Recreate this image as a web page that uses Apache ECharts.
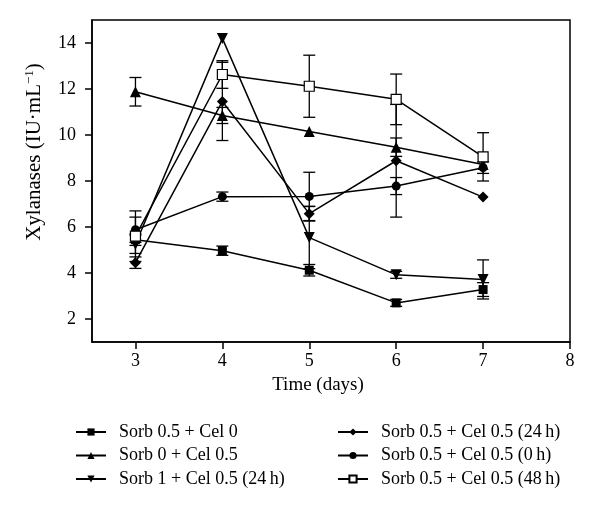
<!DOCTYPE html>
<html>
<head>
<meta charset="utf-8">
<script src="https://cdn.jsdelivr.net/npm/echarts@6/dist/echarts.min.js"></script>
<style>
html,body{margin:0;padding:0;background:#fff;}
#chart{width:600px;height:513px;}
</style>
</head>
<body>
<div id="chart"></div>
<script>
var days = [3, 4, 5, 6, 7];
var xTicks = [3, 4, 5, 6, 7, 8];
var yTicks = [2, 4, 6, 8, 10, 12, 14];
var names = [
  'Sorb 0.5 + Cel 0',
  'Sorb 0 + Cel 0.5',
  'Sorb 1 + Cel 0.5 (24\u2009h)',
  'Sorb 0.5 + Cel 0.5 (24\u2009h)',
  'Sorb 0.5 + Cel 0.5 (0\u2009h)',
  'Sorb 0.5 + Cel 0.5 (48\u2009h)'
];
var s1 = [5.45, 4.97, 4.12, 2.70, 3.28];
var e1 = [0.25, 0.20, 0.25, 0.15, 0.30];
var s2 = [11.88, 10.85, 10.15, 9.47, 8.72];
var e2 = [0.62, 0.35, 0, 0.40, 0];
var s3 = [5.25, 14.20, 5.54, 3.92, 3.72];
var e3 = [0.40, 0, 1.35, 0.15, 0.85];
var s4 = [4.45, 11.46, 6.58, 8.88, 7.30];
var e4 = [0.25, 1.70, 0.32, 2.45, 0];
var s5 = [5.88, 7.32, 7.33, 7.78, 8.58];
var e5 = [0.55, 0.20, 1.05, 0.37, 0.25];
var s6 = [5.60, 12.63, 12.12, 11.55, 9.05];
var e6 = [1.10, 0.60, 1.35, 1.10, 1.05];

var values = [s1, s2, s3, s4, s5, s6];
var errs = [e1, e2, e3, e4, e5, e6];
var symbols = ['rect', 'triangle', 'triangle', 'diamond', 'circle', 'rect'];
var rotates = [0, 0, 180, 0, 0, 0];
var sizes = [9, 11, 11, 11, 9, 10];
var fills = ['#000', '#000', '#000', '#000', '#000', '#fff'];

var FONT = 'Liberation Serif';
var series = [];
for (var i = 0; i < values.length; i++) {
  var errData = [];
  for (var j = 0; j < days.length; j++) {
    if (errs[i][j] > 0) errData.push([days[j], values[i][j] - errs[i][j], values[i][j] + errs[i][j]]);
  }
  series.push({
    type: 'custom',
    name: names[i] + ' err',
    data: errData,
    z: 1,
    silent: true,
    encode: {x: 0, y: [1, 2]},
    renderItem: function (params, api) {
      var x = api.value(0);
      var lo = api.coord([x, api.value(1)]);
      var hi = api.coord([x, api.value(2)]);
      var w = 6;
      var st = {stroke: '#000', lineWidth: 1.3};
      return {
        type: 'group',
        children: [
          {type: 'line', shape: {x1: lo[0], y1: lo[1], x2: hi[0], y2: hi[1]}, style: st},
          {type: 'line', shape: {x1: lo[0] - w, y1: lo[1], x2: lo[0] + w, y2: lo[1]}, style: st},
          {type: 'line', shape: {x1: hi[0] - w, y1: hi[1], x2: hi[0] + w, y2: hi[1]}, style: st}
        ]
      };
    }
  });
}
for (var i = 0; i < values.length; i++) {
  var d = [];
  for (var j = 0; j < days.length; j++) d.push([days[j], values[i][j]]);
  series.push({
    type: 'line',
    name: names[i],
    data: d,
    z: 3,
    symbol: symbols[i],
    symbolSize: sizes[i],
    symbolRotate: rotates[i],
    showAllSymbol: true,
    lineStyle: {color: '#000', width: 1.5},
    itemStyle: {color: fills[i], borderColor: '#000', borderWidth: i === 5 ? 1.2 : 0},
    emphasis: {disabled: true},
    animation: false
  });
}

var legendCommon = {
  orient: 'vertical',
  itemWidth: 30,
  itemHeight: 9,
  itemGap: 5.5,
  textStyle: {fontFamily: FONT, fontSize: 18, color: '#000', lineHeight: 18, padding: [0, 0, 0, 8]},
  selectedMode: false
};

var option = {
  backgroundColor: '#fff',
  animation: false,
  grid: {left: 92, right: 30, top: 20, bottom: 171, show: true, borderColor: '#000', borderWidth: 1.5, containLabel: false},
  xAxis: {
    type: 'value', min: 2.5, max: 8,
    name: 'Time (days)', nameLocation: 'middle', nameGap: 34,
    nameTextStyle: {fontFamily: FONT, fontSize: 19, color: '#000', padding: [0, 26, 0, 0]},
    axisLine: {lineStyle: {color: '#000', width: 1.5}},
    axisTick: {show: true, length: 7, inside: false, lineStyle: {color: '#000', width: 1.5}, customValues: xTicks},
    axisLabel: {fontFamily: FONT, fontSize: 18, color: '#000', margin: 10, customValues: xTicks},
    splitLine: {show: false}
  },
  yAxis: {
    type: 'value', min: 1, max: 15,
    name: 'Xylanases (IU\u00b7mL{sup|\u22121})', nameLocation: 'middle', nameGap: 46, nameRotate: 90,
    nameTextStyle: {fontFamily: FONT, fontSize: 21, color: '#000', padding: [0, 0, 0, 58],
      rich: {sup: {fontFamily: FONT, fontSize: 13, color: '#000', verticalAlign: 'top', padding: [0, 0, 10, 0]}}},
    axisLine: {show: true, lineStyle: {color: '#000', width: 1.5}},
    axisTick: {show: true, length: 7, inside: false, lineStyle: {color: '#000', width: 1.5}, customValues: yTicks},
    axisLabel: {fontFamily: FONT, fontSize: 18, color: '#000', margin: 16, customValues: yTicks},
    splitLine: {show: false}
  },
  legend: [
    Object.assign({}, legendCommon, {left: 70, top: 418, data: names.slice(0, 3)}),
    Object.assign({}, legendCommon, {left: 332, top: 418, data: names.slice(3, 6)})
  ],
  series: series
};

var chart = echarts.init(document.getElementById('chart'), null, {renderer: 'canvas'});
chart.setOption(option);
</script>
</body>
</html>
